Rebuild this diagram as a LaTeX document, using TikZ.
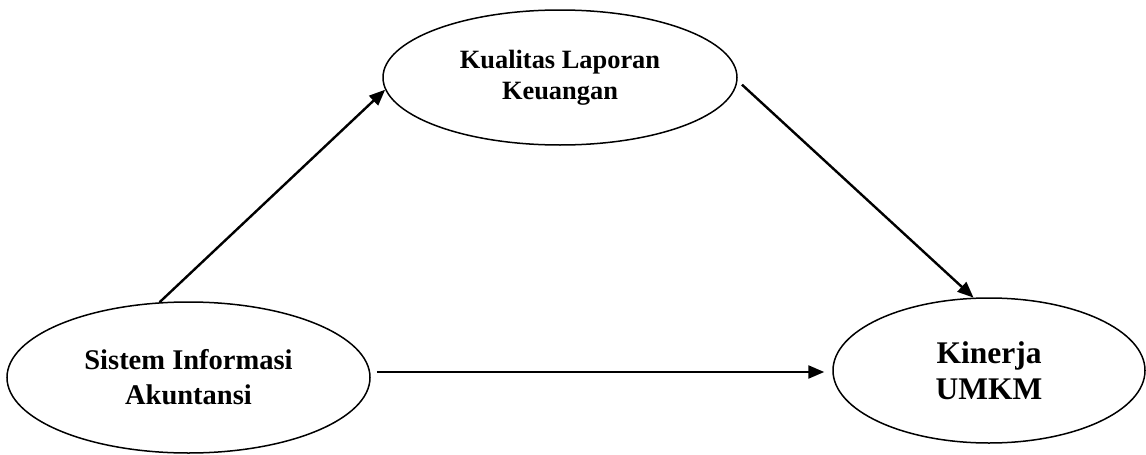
\documentclass[tikz,border=0pt]{standalone}
\usepackage{fontspec}
\setmainfont{Liberation Serif}
\usetikzlibrary{shapes.geometric,arrows.meta}
\begin{document}
\begin{tikzpicture}[x=1pt,y=-1pt,
  var/.style={ellipse,draw=black,line width=1.5pt,inner sep=0pt,align=center,font=\bfseries},
  link/.style={line width=2.4pt,-{Triangle[length=16pt,width=13pt]}}]
\useasboundingbox (0,0) rectangle (1146,455);
\node[var,minimum width=363pt,minimum height=151pt,font=\bfseries\fontsize{28.5}{35}\selectfont]
  (L) at (188.5,377.5) {Sistem Informasi\\Akuntansi};
\node[var,minimum width=354pt,minimum height=135pt,font=\bfseries\fontsize{26.4}{31}\selectfont]
  (T) at (560,77.5) {Kualitas Laporan\\Keuangan};
\node[var,minimum width=312pt,minimum height=145pt,font=\bfseries\fontsize{31.5}{36}\selectfont]
  (R) at (989,370.5) {Kinerja\\UMKM};
\draw[link] (L.111.7) -- (T.184.4);
\draw[link,shorten <=6pt] (T.-1.7) -- (R.102.8);
\coordinate (h1) at ([yshift=5.5pt]L.east);
\draw[link,shorten <=6pt,shorten >=8pt] (h1) -- (h1 -| R.west);
\end{tikzpicture}
\end{document}
